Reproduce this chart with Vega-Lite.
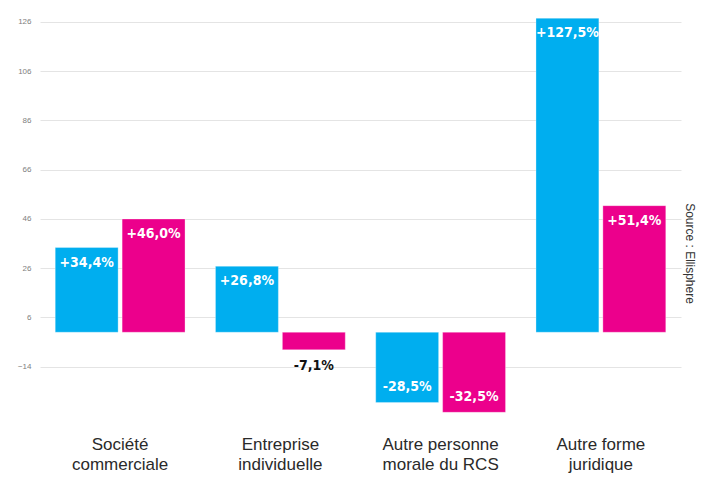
{
  "$schema": "https://vega.github.io/schema/vega-lite/v6.json",
  "width": 641,
  "height": 399,
  "autosize": {"type": "none"},
  "padding": {"left": 40, "top": 17, "right": 24, "bottom": 61},
  "background": "white",
  "title": {"text": "Source : Ellisphere", "orient": "right", "anchor": "middle", "offset": 2, "dx": 37, "font": "Liberation Sans", "fontSize": 12, "fontWeight": "normal", "color": "#333333"},
  "data": {"values": [
    {"cat": "Société commerciale", "serie": "A", "value": 34.4, "label": "+34,4%"},
    {"cat": "Société commerciale", "serie": "B", "value": 46.0, "label": "+46,0%"},
    {"cat": "Entreprise individuelle", "serie": "A", "value": 26.8, "label": "+26,8%"},
    {"cat": "Entreprise individuelle", "serie": "B", "value": -7.1, "label": "-7,1%"},
    {"cat": "Autre personne morale du RCS", "serie": "A", "value": -28.5, "label": "-28,5%"},
    {"cat": "Autre personne morale du RCS", "serie": "B", "value": -32.5, "label": "-32,5%"},
    {"cat": "Autre forme juridique", "serie": "A", "value": 127.5, "label": "+127,5%"},
    {"cat": "Autre forme juridique", "serie": "B", "value": 51.4, "label": "+51,4%"}
  ]},
  "encoding": {
    "x": {"field": "cat", "type": "nominal", "sort": null,
      "scale": {"paddingInner": 0.19, "paddingOuter": 0.095},
      "axis": {"title": null, "domain": false, "ticks": false, "labelAngle": 0, "labelPadding": 20,
        "labelFont": "Liberation Sans", "labelFontSize": 17, "labelColor": "#2a2a2a", "labelLineHeight": 20,
        "labelExpr": "datum.value == 'Société commerciale' ? ['Société', 'commerciale'] : datum.value == 'Entreprise individuelle' ? ['Entreprise', 'individuelle'] : datum.value == 'Autre personne morale du RCS' ? ['Autre personne', 'morale du RCS'] : ['Autre forme', 'juridique']"}},
    "xOffset": {"field": "serie", "type": "nominal", "scale": {"paddingInner": 0.06}},
    "y": {"field": "value", "type": "quantitative",
      "scale": {"domain": [-34, 128], "nice": false, "zero": false},
      "axis": {"title": null, "values": [-14, 6, 26, 46, 66, 86, 106, 126], "domain": false, "ticks": false,
        "labelFont": "Liberation Sans", "labelFontSize": 8, "labelColor": "#808080", "labelPadding": 9,
        "gridColor": "#e4e4e4", "gridWidth": 1}}
  },
  "layer": [
    {"mark": {"type": "bar", "stroke": "white", "strokeOpacity": 0.3, "strokeWidth": 1},
     "encoding": {
       "y2": {"datum": 0},
       "color": {"field": "serie", "type": "nominal", "scale": {"domain": ["A", "B"], "range": ["#00AEEF", "#EC008C"]}, "legend": null}}},
    {"transform": [{"filter": "datum.value > 0"}],
     "mark": {"type": "text", "baseline": "middle", "dy": 15, "font": "DejaVu Sans Condensed", "fontWeight": "bold", "fontSize": 14, "color": "white"},
     "encoding": {"text": {"field": "label"}}},
    {"transform": [{"filter": "datum.value < -10"}],
     "mark": {"type": "text", "baseline": "middle", "dy": -15, "font": "DejaVu Sans Condensed", "fontWeight": "bold", "fontSize": 14, "color": "white"},
     "encoding": {"text": {"field": "label"}}},
    {"transform": [{"filter": "datum.value < 0 && datum.value >= -10"}],
     "mark": {"type": "text", "baseline": "middle", "dy": 16, "font": "DejaVu Sans Condensed", "fontWeight": "bold", "fontSize": 14, "color": "#111111"},
     "encoding": {"text": {"field": "label"}}}
  ],
  "config": {"view": {"stroke": null}}
}
